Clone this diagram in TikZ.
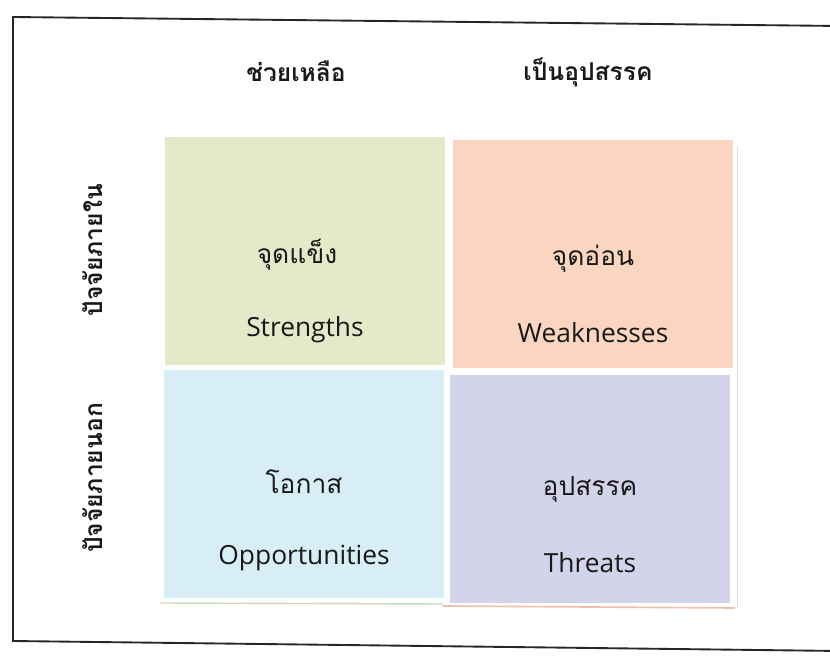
\documentclass[tikz,border=0pt]{standalone}
\usepackage{fontspec}
\setmainfont{Open Sans}
\newfontfamily\thai[Script=Thai]{Loma}
\usetikzlibrary{positioning}

\definecolor{strcol}{RGB}{226,234,202}
\definecolor{weakcol}{RGB}{250,214,192}
\definecolor{oppcol}{RGB}{216,238,246}
\definecolor{thrcol}{RGB}{211,211,233}
\definecolor{edgegreen}{RGB}{200,218,190}
\definecolor{edgepeach}{RGB}{240,190,170}

\tikzstyle{cell} = [rectangle,inner sep=0,minimum width=8.4cm,minimum height=6.84cm]
\tikzstyle{thlabel} = [font=\thai\fontsize{22.5}{26}\selectfont,text=black!90]
\tikzstyle{enlabel} = [font=\fontsize{22.5}{26}\selectfont,text=black!90]
\tikzstyle{head} = [font=\thai\bfseries\fontsize{21}{25}\selectfont,text=black!90]
\tikzstyle{side} = [head,rotate=90]
\def \gap {2.37cm}

\begin{document}
\begin{tikzpicture}[x=0.03cm,y=-0.03cm]
  \useasboundingbox (0,0) rectangle (830,656);
  % frame of the page
  \draw[line width=1.6pt,black!85] (840,26) -- (13,17) -- (13,641) -- (840,651);

  % column and row headings
  \node[head] (help) at (296,71) {ช่วยเหลือ};
  \node[head] (hinder) at (588,72) {เป็นอุปสรรค};
  \node[side] (inside) at (93,250) {ปัจจัยภายใน};
  \node[side] (outside) at (93,478) {ปัจจัยภายนอก};

  % the four quadrants
  \node[cell,fill=strcol] (str) at (305,251) {};
  \node[cell,fill=weakcol] (weak) at (593,254) {};
  \node[cell,fill=oppcol] (opp) at (304,484) {};
  \node[cell,fill=thrcol] (thr) at (590,489) {};

  % faint edges left under the boxes
  \draw[edgegreen,line width=1.2pt] (160,603) -- (443,604);
  \draw[edgepeach,line width=1.4pt] (443,606) -- (735,608);
  \draw[edgepeach!60,line width=0.8pt] (737,146) -- (737,608);

  % labels
  \node[thlabel] (strTh) at ([xshift=-0.24cm,yshift=-0.12cm]str.center) {จุดแข็ง};
  \node[enlabel] (strEn) at ([yshift=-\gap]str.center) {Strengths};
  \node[thlabel] (weakTh) at ([yshift=-0.15cm]weak.center) {จุดอ่อน};
  \node[enlabel] (weakEn) at ([yshift=-\gap]weak.center) {Weaknesses};
  \node[thlabel] (oppTh) at ([yshift=0.06cm]opp.center) {โอกาส};
  \node[enlabel] (oppEn) at ([yshift=-2.22cm]opp.center) {Opportunities};
  \node[thlabel] (thrTh) at (thr.center) {อุปสรรค};
  \node[enlabel] (thrEn) at ([yshift=-2.22cm]thr.center) {Threats};
\end{tikzpicture}
\end{document}
